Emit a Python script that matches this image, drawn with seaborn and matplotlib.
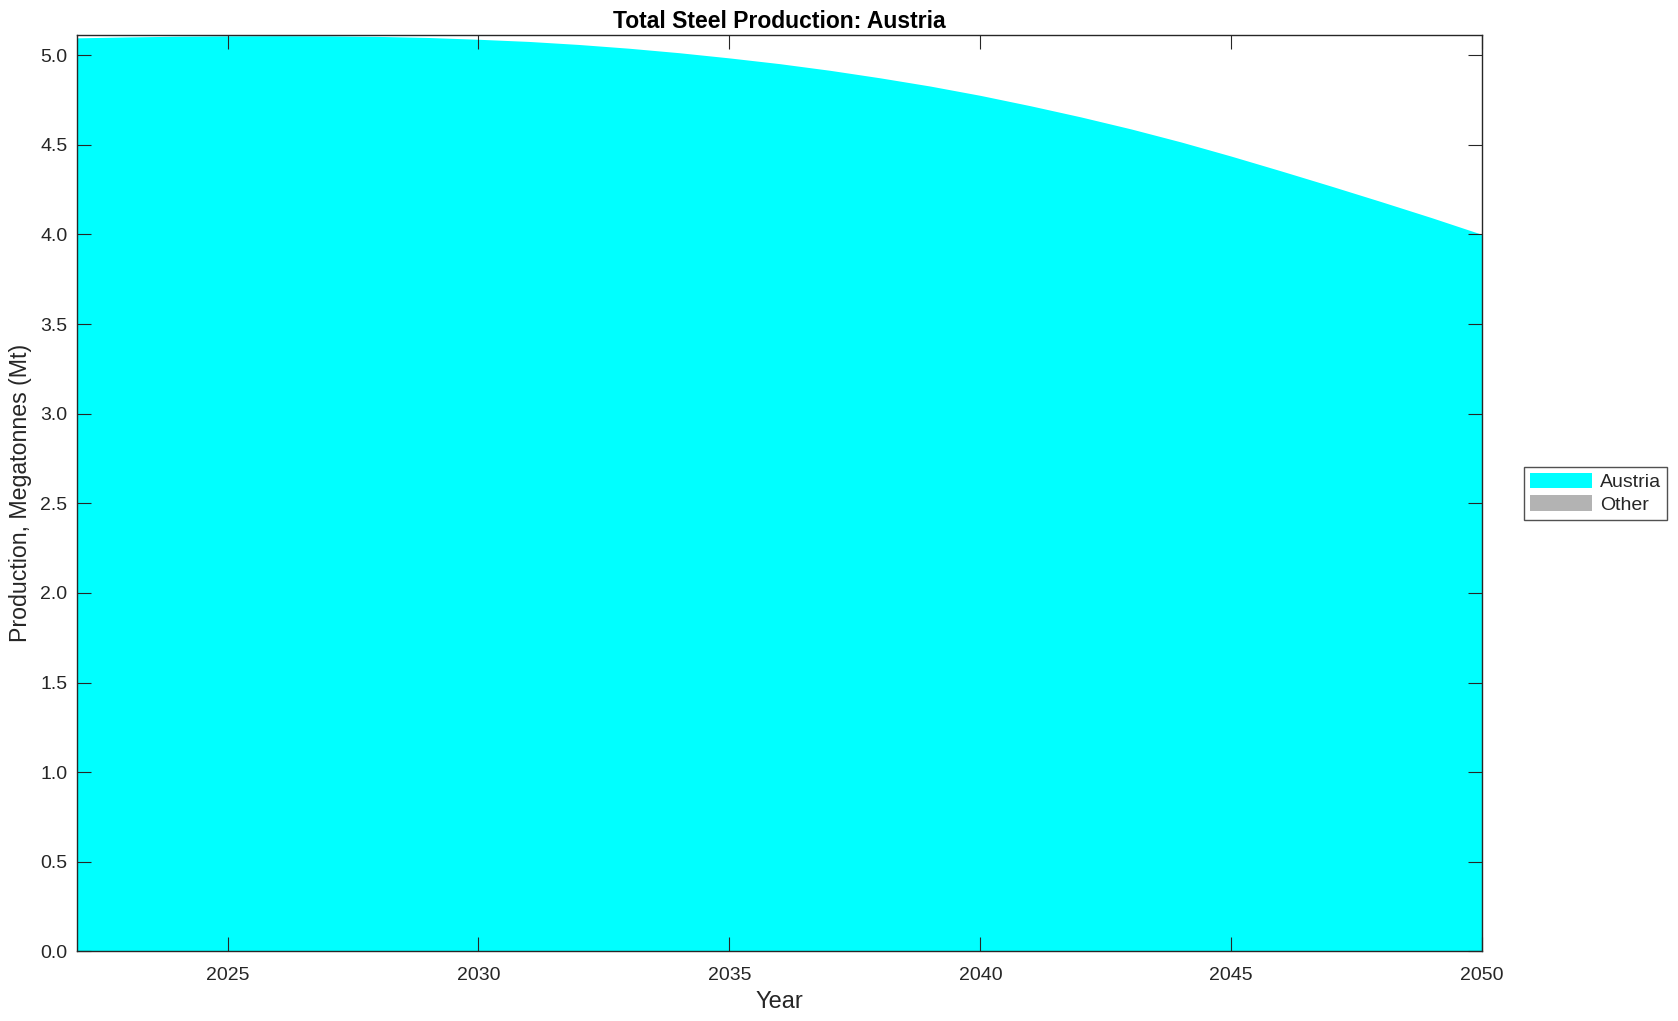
import matplotlib
matplotlib.use("Agg")
import matplotlib.pyplot as plt
import seaborn as sns
import pandas as pd
import numpy as np

years = list(range(2022, 2051))
austria = [5.097, 5.102, 5.106, 5.108, 5.109, 5.108, 5.105, 5.099, 5.089,
           5.077, 5.060, 5.039, 5.014, 4.985,
           4.953, 4.916, 4.874, 4.828, 4.776,
           4.718, 4.656, 4.589, 4.516, 4.437,
           4.354, 4.269, 4.182, 4.093, 4.000]
other = [0.0] * len(years)
series_names = ["Austria", "Other"]
series_colors = ["#00ffff", "#b3b3b3"]

df = pd.DataFrame({"Year": years, "Austria": austria, "Other": other})

sns.set_theme(style="ticks")
plt.rcParams['font.family'] = ['Liberation Sans', 'DejaVu Sans']

fig = plt.figure(figsize=(16.78, 10.21), dpi=100)
ax = fig.add_axes([0.0459, 0.0682, 0.8374, 0.8972])

ax.stackplot(df["Year"], df["Austria"], df["Other"],
             labels=series_names, colors=series_colors, linewidth=0)

ax.set_xlim(2022, 2050)
ax.set_ylim(0, 5.111)
ax.set_xticks([2025, 2030, 2035, 2040, 2045, 2050])
ax.set_yticks(np.arange(0, 5.01, 0.5))
ax.yaxis.set_major_formatter(matplotlib.ticker.FormatStrFormatter('%.1f'))

dark = '#262626'
for s in ax.spines.values():
    s.set_visible(True)
    s.set_color(dark)
    s.set_linewidth(1.0)
ax.tick_params(direction='in', length=10, width=0.8, colors=dark,
               labelsize=14, top=True, right=True)
ax.tick_params(axis='x', pad=11)
ax.tick_params(axis='y', pad=7)
ax.set_axisbelow(False)

ax.set_title("Total Steel Production: Austria", fontsize=16.5, fontweight='bold',
             pad=5, color='black')
ax.set_xlabel("Year", fontsize=17, color=dark, labelpad=5)
ax.set_ylabel("Production, Megatonnes (Mt)", fontsize=16.7, color=dark, labelpad=6)

leg = ax.legend(loc='center left', bbox_to_anchor=(1.03, 0.5), fontsize=14,
                frameon=True, fancybox=False, edgecolor=dark,
                handlelength=3.2, handleheight=0.85, borderpad=0.3,
                labelspacing=0.2, handletextpad=0.4, borderaxespad=0)
leg.get_frame().set_linewidth(1.0)

fig.savefig("out.png", dpi=100)
